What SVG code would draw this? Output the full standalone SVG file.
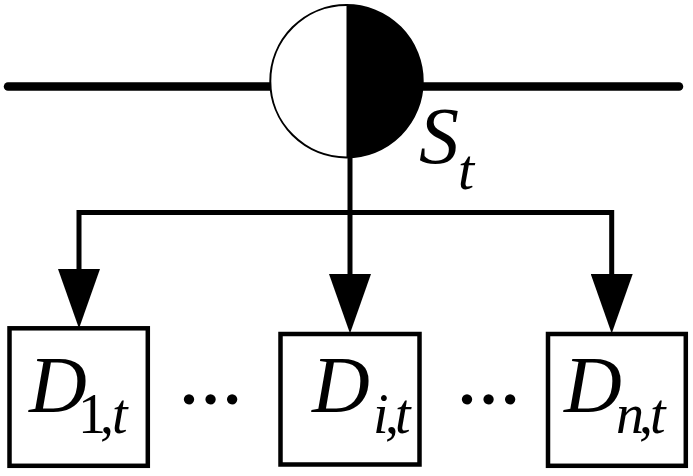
<svg xmlns="http://www.w3.org/2000/svg" width="693" height="476" viewBox="0 0 693 476">
  <style>
    .box { fill: #fff; stroke: #000; stroke-width: 4.5; }
    .conn { fill: none; stroke: #000; stroke-width: 5; stroke-linejoin: miter; }
    .bus { fill: none; stroke: #000; stroke-width: 8.5; stroke-linecap: round; }
  </style>
  <defs>
    <marker id="arr" markerUnits="userSpaceOnUse" markerWidth="60" markerHeight="42" viewBox="0 0 58 41" refX="0" refY="20.5" orient="auto-start-reverse">
      <path d="M0,0 L58,20.5 L0,41 z" fill="#000"/>
    </marker>
  </defs>
  <rect width="693" height="476" fill="#fff"/>

  <g id="bus">
    <line class="bus" x1="8" y1="86.5" x2="270" y2="86.5"/>
    <line class="bus" x1="423" y1="86.5" x2="679" y2="86.5"/>
  </g>

  <g id="connectors">
    <path class="conn" d="M79,269 V212.5 H611.7 V274" marker-start="url(#arr)" marker-end="url(#arr)"/>
    <path class="conn" d="M350,157 V274" marker-end="url(#arr)"/>
  </g>

  <g id="node-S">
    <path d="M346.5,5 A76.2,76.2 0 0 0 346.5,157.4 Z" fill="#fff"/>
    <path d="M346.5,5 A76.2,76.2 0 0 1 346.5,157.4 Z" fill="#000"/>
    <circle cx="346.5" cy="81.2" r="76.2" fill="none" stroke="#000" stroke-width="2"/>
    <text font-family="Liberation Serif, serif" font-style="italic" x="419" y="163" font-size="80">S<tspan x="458" y="189" font-size="58">t</tspan></text>
  </g>

  <g id="node-D1">
    <rect class="box" x="9.5" y="328.3" width="138.3" height="137.5"/>
    <text font-family="Liberation Serif, serif" font-style="italic" x="29" y="412" font-size="80">D<tspan font-style="normal" x="78" y="433" font-size="56">1</tspan><tspan font-style="normal" x="100" y="433" font-size="56">,</tspan><tspan x="112" y="433" font-size="56">t</tspan></text>
  </g>

  <g id="dots">
    <text font-family="Liberation Serif, serif" font-weight="bold" x="210.5" y="404" font-size="64" text-anchor="middle">…</text>
    <text font-family="Liberation Serif, serif" font-weight="bold" x="488.5" y="404" font-size="64" text-anchor="middle">…</text>
  </g>

  <g id="node-Di">
    <rect class="box" x="280.5" y="334" width="139" height="130.5"/>
    <text font-family="Liberation Serif, serif" font-style="italic" x="312" y="412" font-size="80">D<tspan x="373" y="433" font-size="56">i</tspan><tspan font-style="normal" x="385" y="433" font-size="56">,</tspan><tspan x="395" y="433" font-size="56">t</tspan></text>
  </g>

  <g id="node-Dn">
    <rect class="box" x="548" y="334" width="137.8" height="131.8"/>
    <text font-family="Liberation Serif, serif" font-style="italic" x="564" y="412" font-size="80">D<tspan x="616" y="433" font-size="56">n</tspan><tspan font-style="normal" x="639" y="433" font-size="56">,</tspan><tspan x="650" y="433" font-size="56">t</tspan></text>
  </g>
</svg>
